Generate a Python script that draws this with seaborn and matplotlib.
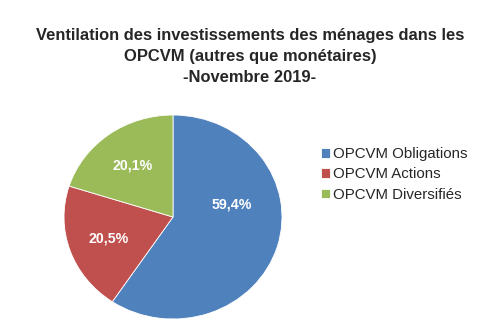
import matplotlib
matplotlib.use("Agg")
import matplotlib.pyplot as plt
import seaborn as sns

categories = ["OPCVM Obligations", "OPCVM Actions", "OPCVM Diversifiés"]
values = [59.4, 20.5, 20.1]
labels = ["59,4%", "20,5%", "20,1%"]
colors = ["#4F81BD", "#C0504D", "#9BBB59"]

sns.set_style("white")
plt.rcParams['font.family'] = ['Liberation Sans', 'DejaVu Sans']

fig = plt.figure(figsize=(5.0, 3.29), dpi=100)
ax = fig.add_axes([0.128, 0.0304, 0.436, 0.620])
wedges, texts, autotexts = ax.pie(
    values, colors=colors, startangle=90, counterclock=False,
    autopct=lambda p: "", pctdistance=0.63,
    wedgeprops=dict(linewidth=0.6, edgecolor="white"))
for t, lab in zip(autotexts, labels):
    t.set_text(lab)
    t.set_color("white")
    t.set_fontweight("bold")
    t.set_fontsize(10.2)
# Excel-style best-fit placement for the large slice label
autotexts[0].set_position((0.54, 0.12))
ax.set_aspect("auto")
ax.set_xlim(-1, 1)
ax.set_ylim(-1, 1)
ax.axis("off")

fig.text(0.5, 0.827, "Ventilation des investissements des ménages dans les\nOPCVM (autres que monétaires)\n-Novembre 2019-",
         ha="center", va="center", fontsize=11.9, fontweight="bold", linespacing=1.5)

leg = fig.legend(wedges, categories, loc="center left", bbox_to_anchor=(0.641, 0.47),
                 frameon=False, fontsize=10.8, handlelength=0.6, handleheight=0.6,
                 handletextpad=0.25, labelspacing=0.42, borderpad=0, borderaxespad=0)

fig.savefig("out.png", dpi=100)
